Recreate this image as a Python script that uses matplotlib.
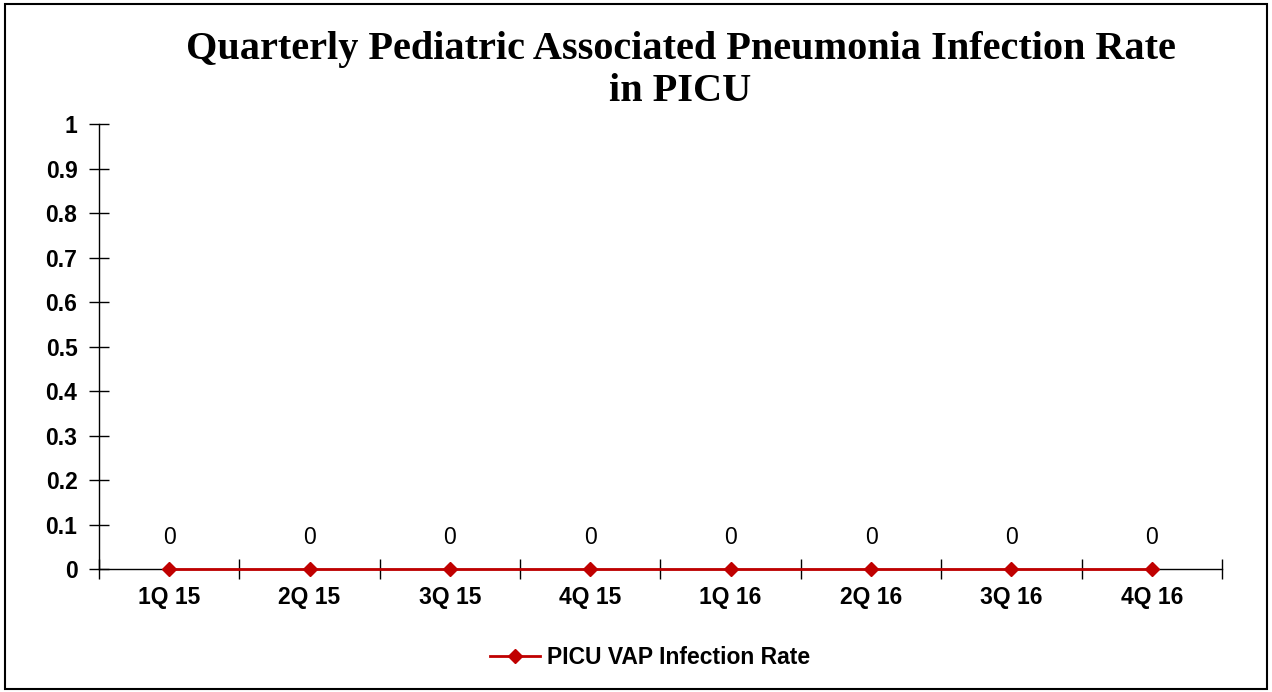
import matplotlib.pyplot as plt
from matplotlib.patches import Rectangle

# chart data
quarters = ["1Q 15", "2Q 15", "3Q 15", "4Q 15", "1Q 16", "2Q 16", "3Q 16", "4Q 16"]
vap_rate = [0, 0, 0, 0, 0, 0, 0, 0]
y_ticks = [0, 0.1, 0.2, 0.3, 0.4, 0.5, 0.6, 0.7, 0.8, 0.9, 1]

red = "#C00000"
fs = 16.5

fig = plt.figure(figsize=(12.72, 6.92), dpi=100)
ax = fig.add_axes([0.0778, 0.1777, 0.8829, 0.6431])

x = list(range(len(quarters)))
ax.plot(x, vap_rate, color=red, lw=2, marker="D", markersize=7,
        label="PICU VAP Infection Rate", clip_on=False, zorder=5)

for xi, v in zip(x, vap_rate):
    ax.annotate(f"{v:g}", (xi, v), xytext=(0, 23), textcoords="offset points",
                ha="center", va="center", fontsize=fs, family="Liberation Sans")

ax.set_xlim(-0.5, len(quarters) - 0.5)
ax.set_ylim(0, 1)
ax.set_yticks(y_ticks)
ax.set_yticklabels([f"{t:g}" for t in y_ticks], fontsize=fs, fontweight="bold",
                   family="Liberation Sans")

# ticks between categories, labels at centres
ax.set_xticks([i - 0.5 for i in range(len(quarters) + 1)])
ax.set_xticklabels([])
ax.set_xticks(x, minor=True)
ax.set_xticklabels(quarters, minor=True, fontsize=fs, fontweight="bold",
                   family="Liberation Sans")
ax.tick_params(axis="x", which="major", direction="inout", length=15, width=1)
ax.tick_params(axis="x", which="minor", length=0, pad=12)
ax.tick_params(axis="y", direction="inout", length=15, width=1, pad=8)

for s in ["top", "right"]:
    ax.spines[s].set_visible(False)
for s in ["left", "bottom"]:
    ax.spines[s].set_linewidth(1)

fig.text(0.535, 0.898, "Quarterly Pediatric Associated Pneumonia Infection Rate\nin PICU",
         ha="center", va="center", fontsize=29, fontweight="bold",
         family="Liberation Serif", linespacing=1.2)

fig.legend(loc="center", bbox_to_anchor=(0.511, 0.05), frameon=False,
           prop={"family": "Liberation Sans", "weight": "bold", "size": fs},
           handlelength=2.2, handletextpad=0.3)

fig.patches.append(Rectangle((0.004, 0.004), 0.992, 0.99, transform=fig.transFigure,
                             fill=False, edgecolor="black", lw=1.5))

fig.savefig("out.png", dpi=100)
